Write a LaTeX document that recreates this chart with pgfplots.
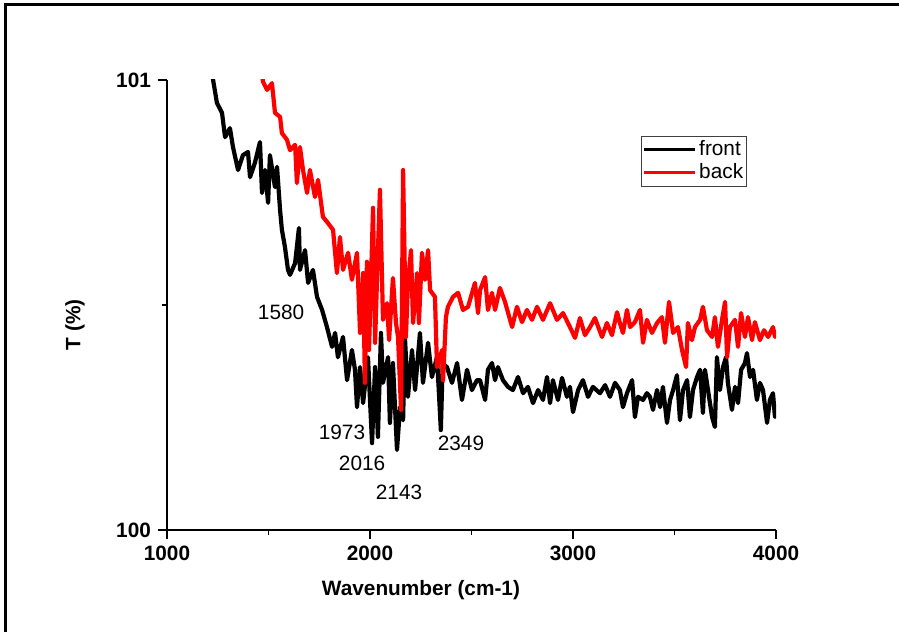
\documentclass[border=0pt]{standalone}
\usepackage{fontspec}
\setmainfont{Liberation Sans}
\usepackage{pgfplots}
\pgfplotsset{compat=1.18}
\begin{document}
\begin{tikzpicture}
\path[use as bounding box] (0,0) rectangle (449.5pt,316pt);
\draw[line width=1.5pt] (2.75pt,0) -- (2.75pt,313.75pt) -- (449.5pt,313.75pt);
\begin{axis}[
  at={(83.5pt,51pt)}, anchor=south west,
  scale only axis, width=304.5pt, height=225pt,
  xmin=1000, xmax=4000, ymin=100, ymax=101,
  axis x line*=bottom, axis y line*=left,
  axis line style={line width=0.75pt,-},
  tick align=outside,
  major tick length=4.5pt, minor tick length=2.5pt,
  every tick/.style={line width=0.75pt, black},
  xtick={1000,2000,3000,4000}, xticklabels={1000,2000,3000,4000},
  minor xtick={1500,2500,3500},
  ytick={100,101}, yticklabels={100,101},
  minor ytick={100.5},
  /pgf/number format/assume math mode=true,
  ticklabel style={font=\fontsize{10.4}{12}\selectfont\bfseries},
  xlabel={Wavenumber (cm-1)},
  ylabel={T (\%)},
  xlabel style={at={(axis description cs:0.417,-0.133)}, anchor=center, font=\fontsize{10.4}{12}\selectfont\bfseries},
  ylabel style={at={(axis description cs:-0.151,0.456)}, anchor=center, font=\fontsize{10.4}{12}\selectfont\bfseries},
  legend style={at={(0.778,0.876)}, anchor=north west, draw=black!75, line width=0.6pt,
    font=\fontsize{10.4}{12}\selectfont, inner xsep=0.5pt, inner ysep=1pt,
    nodes={inner sep=1.2pt}},
  legend cell align=left,
  legend image code/.code={\draw[#1, line width=1.6pt] (0cm,0cm) -- (0.9cm,0cm);},
]
\addplot[black, line width=2.1pt, line join=round] table {
x y
1218 101.030
1227 101.000
1246 100.949
1271 100.927
1286 100.873
1310 100.893
1325 100.851
1350 100.800
1374 100.833
1399 100.840
1409 100.784
1433 100.816
1458 100.862
1468 100.749
1483 100.800
1498 100.727
1507 100.833
1532 100.762
1542 100.807
1557 100.711
1566 100.667
1581 100.629
1596 100.578
1606 100.567
1631 100.593
1650 100.671
1655 100.578
1680 100.622
1695 100.549
1719 100.578
1739 100.518
1764 100.489
1788 100.451
1813 100.407
1828 100.438
1842 100.384
1867 100.429
1887 100.333
1911 100.400
1926 100.356
1936 100.273
1951 100.362
1966 100.282
1990 100.384
2010 100.193
2025 100.362
2039 100.207
2054 100.438
2064 100.327
2089 100.384
2098 100.238
2113 100.371
2133 100.178
2148 100.273
2163 100.244
2172 100.429
2187 100.296
2207 100.400
2222 100.311
2246 100.438
2261 100.327
2286 100.416
2305 100.340
2330 100.384
2340 100.300
2349 100.222
2358 100.370
2379 100.362
2404 100.327
2429 100.371
2453 100.289
2478 100.356
2502 100.311
2527 100.333
2542 100.333
2567 100.289
2581 100.356
2601 100.371
2616 100.333
2630 100.362
2655 100.333
2680 100.318
2704 100.311
2729 100.340
2754 100.304
2778 100.318
2803 100.282
2828 100.311
2852 100.289
2872 100.340
2887 100.282
2901 100.333
2926 100.289
2946 100.338
2970 100.296
2985 100.318
3000 100.262
3025 100.311
3049 100.333
3074 100.296
3098 100.318
3133 100.304
3158 100.322
3182 100.296
3207 100.327
3231 100.311
3246 100.273
3266 100.304
3291 100.333
3305 100.251
3320 100.296
3345 100.289
3364 100.304
3379 100.296
3394 100.267
3414 100.311
3429 100.273
3443 100.318
3463 100.238
3478 100.289
3493 100.311
3512 100.344
3527 100.244
3542 100.311
3562 100.333
3576 100.251
3591 100.311
3611 100.340
3626 100.356
3640 100.260
3650 100.356
3665 100.311
3685 100.251
3699 100.229
3709 100.384
3724 100.311
3739 100.362
3754 100.384
3763 100.327
3783 100.267
3798 100.318
3813 100.282
3828 100.356
3847 100.371
3857 100.393
3872 100.340
3887 100.356
3906 100.289
3921 100.327
3936 100.311
3956 100.238
3970 100.289
3985 100.304
3995 100.251
4000 100.270
};
\addlegendentry{front}
\addplot[red, line width=2.1pt, line join=round] table {
x y
1466 101.020
1473 100.996
1493 100.978
1517 100.993
1532 100.927
1557 100.918
1566 100.882
1591 100.867
1606 100.844
1631 100.856
1640 100.771
1655 100.851
1670 100.800
1690 100.749
1704 100.800
1729 100.740
1744 100.778
1768 100.696
1793 100.682
1818 100.667
1837 100.571
1852 100.651
1867 100.578
1892 100.616
1911 100.556
1936 100.616
1951 100.438
1966 100.571
1975 100.327
1985 100.596
1995 100.400
2015 100.716
2025 100.416
2034 100.549
2049 100.756
2064 100.467
2084 100.504
2094 100.422
2113 100.560
2128 100.460
2138 100.429
2153 100.267
2163 100.800
2177 100.429
2187 100.549
2202 100.622
2212 100.460
2232 100.571
2241 100.460
2256 100.616
2271 100.556
2286 100.622
2296 100.533
2320 100.518
2330 100.362
2355 100.400
2360 100.333
2374 100.473
2384 100.496
2409 100.518
2434 100.527
2458 100.489
2483 100.496
2517 100.549
2532 100.482
2542 100.533
2567 100.562
2581 100.489
2601 100.527
2616 100.489
2640 100.538
2665 100.507
2700 100.451
2724 100.496
2749 100.462
2773 100.489
2798 100.467
2823 100.496
2852 100.467
2887 100.504
2921 100.467
2951 100.482
2985 100.451
3010 100.427
3034 100.471
3059 100.433
3084 100.451
3108 100.471
3143 100.429
3167 100.460
3192 100.433
3217 100.484
3231 100.460
3246 100.438
3266 100.489
3281 100.451
3305 100.462
3330 100.489
3345 100.416
3364 100.467
3389 100.438
3414 100.460
3438 100.473
3453 100.416
3473 100.507
3493 100.438
3517 100.451
3537 100.400
3557 100.362
3566 100.460
3586 100.422
3601 100.451
3626 100.467
3640 100.496
3660 100.444
3685 100.429
3699 100.473
3714 100.407
3734 100.467
3749 100.507
3759 100.384
3773 100.451
3798 100.467
3813 100.407
3828 100.482
3847 100.429
3862 100.473
3882 100.422
3896 100.462
3921 100.422
3941 100.444
3961 100.429
3985 100.451
3995 100.429
4000 100.440
};
\addlegendentry{back}
\node[font=\fontsize{10.4}{12}\selectfont] at (axis cs:1562,100.484) {1580};
\node[font=\fontsize{10.4}{12}\selectfont] at (axis cs:1862,100.216) {1973};
\node[font=\fontsize{10.4}{12}\selectfont] at (axis cs:1961,100.149) {2016};
\node[font=\fontsize{10.4}{12}\selectfont] at (axis cs:2143,100.084) {2143};
\node[font=\fontsize{10.4}{12}\selectfont] at (axis cs:2448,100.193) {2349};
\end{axis}
\end{tikzpicture}
\end{document}
